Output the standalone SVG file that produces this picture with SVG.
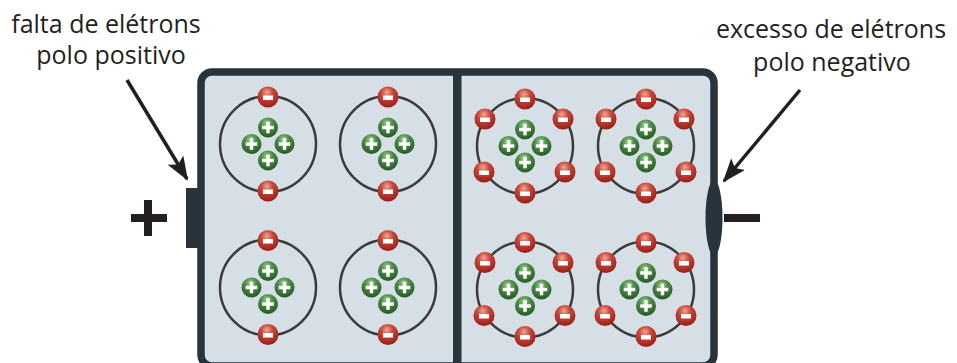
<svg xmlns="http://www.w3.org/2000/svg" xmlns:xlink="http://www.w3.org/1999/xlink" width="957" height="363" viewBox="0 0 957 363">
  <defs>
    <radialGradient id="gElectron" cx="0.45" cy="0.28" r="0.72">
      <stop offset="0" stop-color="#f3a793"/>
      <stop offset="0.4" stop-color="#c6463a"/>
      <stop offset="1" stop-color="#9a1d16"/>
    </radialGradient>
    <radialGradient id="gProton" cx="0.45" cy="0.28" r="0.72">
      <stop offset="0" stop-color="#a5d195"/>
      <stop offset="0.4" stop-color="#4c8c46"/>
      <stop offset="1" stop-color="#265a24"/>
    </radialGradient>
    <g id="electron">
      <circle r="10.5" fill="url(#gElectron)"/>
      <rect x="-5" y="-1.5" width="10" height="4.5" fill="#ffffff"/>
    </g>
    <g id="proton">
      <circle r="10" fill="url(#gProton)"/>
      <rect x="-5.8" y="-1.7" width="11.6" height="3.4" fill="#ffffff"/>
      <rect x="-1.7" y="-5.8" width="3.4" height="11.6" fill="#ffffff"/>
    </g>
    <g id="nucleus">
      <use xlink:href="#proton" x="0" y="-16.5"/>
      <use xlink:href="#proton" x="-16.5" y="0"/>
      <use xlink:href="#proton" x="16.5" y="0"/>
      <use xlink:href="#proton" x="0" y="16.5"/>
    </g>
    <marker id="arrowHead" viewBox="0 0 24 18" refX="22" refY="9" markerWidth="24" markerHeight="18" markerUnits="userSpaceOnUse" orient="auto">
      <path d="M0,0 L24,9 L0,18 L5,9 Z" fill="#231f20"/>
    </marker>
  </defs>
  <style>
    .label { font-family: "Open Sans", "Liberation Sans", sans-serif; font-size: 25px; fill: #231f20; text-anchor: middle; }
    .orbit { fill: none; stroke: #3b3b3b; stroke-width: 2.5; }
    .case { fill: #d5dfe5; stroke: #29333b; stroke-width: 7.5; }
    .dark { fill: #29333b; }
    .sign { fill: #231f20; }
    .arrow { stroke: #231f20; stroke-width: 3.5; fill: none; marker-end: url(#arrowHead); }
  </style>

  <!-- battery casing and separator -->
  <g id="battery">
    <rect class="case" x="201" y="72" width="513" height="294" rx="11"/>
    <rect class="dark" x="453" y="70" width="8.5" height="296"/>
    <rect class="dark" x="186" y="188" width="12" height="60"/>
    <ellipse class="dark" cx="714" cy="218" rx="8.5" ry="38"/>
  </g>

  <!-- pole signs -->
  <g id="plus-sign">
    <rect class="sign" x="131" y="214" width="36" height="8"/>
    <rect class="sign" x="144" y="200" width="8" height="36"/>
  </g>
  <g id="minus-sign">
    <rect class="sign" x="724" y="214" width="36" height="8"/>
  </g>

  <!-- left half: atoms with two electrons -->
  <g id="atom-l1" transform="translate(268,144)">
    <circle class="orbit" r="48"/>
    <use xlink:href="#nucleus"/>
    <use xlink:href="#electron" y="-47"/>
    <use xlink:href="#electron" y="47"/>
  </g>
  <g id="atom-l2" transform="translate(388,144)">
    <circle class="orbit" r="48"/>
    <use xlink:href="#nucleus"/>
    <use xlink:href="#electron" y="-47"/>
    <use xlink:href="#electron" y="47"/>
  </g>
  <g id="atom-l3" transform="translate(268,287.5)">
    <circle class="orbit" r="48"/>
    <use xlink:href="#nucleus"/>
    <use xlink:href="#electron" y="-47"/>
    <use xlink:href="#electron" y="47"/>
  </g>
  <g id="atom-l4" transform="translate(388,287.5)">
    <circle class="orbit" r="48"/>
    <use xlink:href="#nucleus"/>
    <use xlink:href="#electron" y="-47"/>
    <use xlink:href="#electron" y="47"/>
  </g>

  <!-- right half: atoms with six electrons -->
  <g id="atom-r1" transform="translate(525,146)">
    <circle class="orbit" r="48"/>
    <use xlink:href="#nucleus"/>
    <use xlink:href="#electron" y="-47"/>
    <use xlink:href="#electron" x="-40" y="-27"/>
    <use xlink:href="#electron" x="38" y="-27"/>
    <use xlink:href="#electron" x="-41" y="26"/>
    <use xlink:href="#electron" x="40" y="26"/>
    <use xlink:href="#electron" y="47"/>
  </g>
  <g id="atom-r2" transform="translate(646,146)">
    <circle class="orbit" r="48"/>
    <use xlink:href="#nucleus"/>
    <use xlink:href="#electron" y="-47"/>
    <use xlink:href="#electron" x="-40" y="-27"/>
    <use xlink:href="#electron" x="38" y="-27"/>
    <use xlink:href="#electron" x="-41" y="26"/>
    <use xlink:href="#electron" x="40" y="26"/>
    <use xlink:href="#electron" y="47"/>
  </g>
  <g id="atom-r3" transform="translate(525,289.5)">
    <circle class="orbit" r="48"/>
    <use xlink:href="#nucleus"/>
    <use xlink:href="#electron" y="-47"/>
    <use xlink:href="#electron" x="-40" y="-27"/>
    <use xlink:href="#electron" x="38" y="-27"/>
    <use xlink:href="#electron" x="-41" y="26"/>
    <use xlink:href="#electron" x="40" y="26"/>
    <use xlink:href="#electron" y="47"/>
  </g>
  <g id="atom-r4" transform="translate(646,289.5)">
    <circle class="orbit" r="48"/>
    <use xlink:href="#nucleus"/>
    <use xlink:href="#electron" y="-47"/>
    <use xlink:href="#electron" x="-40" y="-27"/>
    <use xlink:href="#electron" x="38" y="-27"/>
    <use xlink:href="#electron" x="-41" y="26"/>
    <use xlink:href="#electron" x="40" y="26"/>
    <use xlink:href="#electron" y="47"/>
  </g>

  <!-- captions -->
  <g id="label-positive">
    <text class="label" x="106" y="33">falta de elétrons</text>
    <text class="label" x="111" y="64">polo positivo</text>
  </g>
  <g id="label-negative">
    <text class="label" x="831" y="38">excesso de elétrons</text>
    <text class="label" x="832" y="71">polo negativo</text>
  </g>

  <!-- pointer arrows -->
  <g id="connectors">
    <line class="arrow" x1="127" y1="80" x2="187" y2="179"/>
    <line class="arrow" x1="800" y1="90" x2="724" y2="181"/>
  </g>
</svg>
